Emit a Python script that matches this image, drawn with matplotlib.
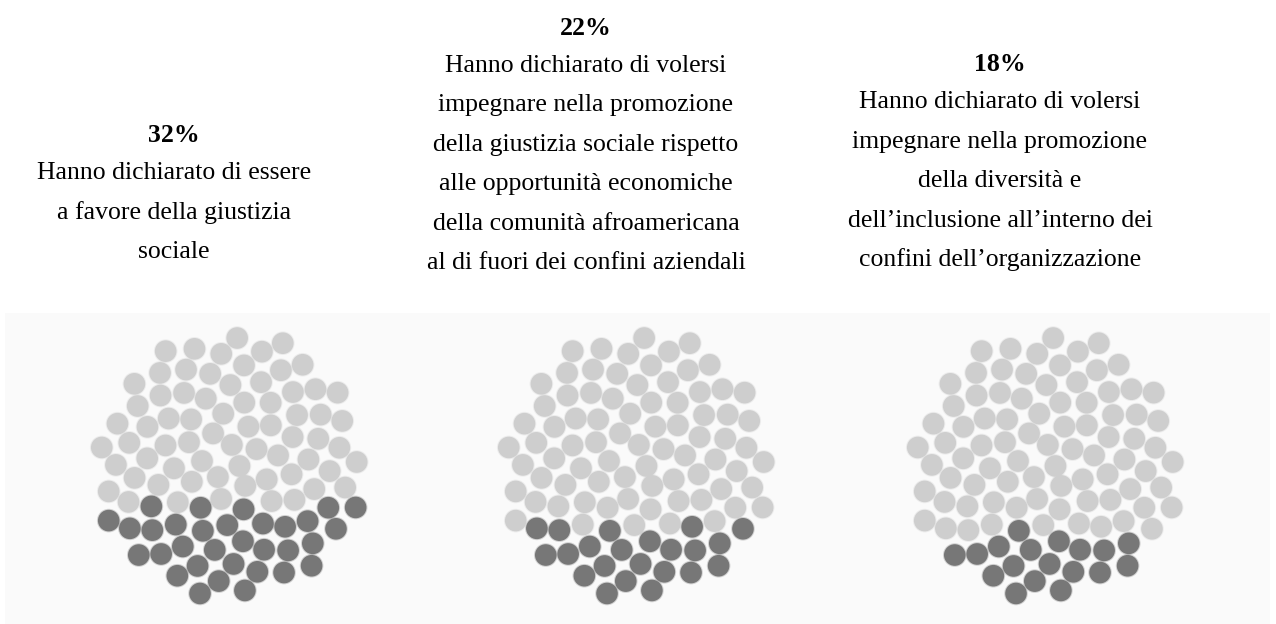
import numpy as np
import matplotlib
matplotlib.use("Agg")
import matplotlib.pyplot as plt
from matplotlib.patches import Circle, Rectangle

# percentuali e testi delle tre colonne
percentuali = [32, 22, 18]
descrizioni = [
    ["Hanno dichiarato di essere",
     "a favore della giustizia",
     "sociale"],
    ["Hanno dichiarato di volersi",
     "impegnare nella promozione",
     "della giustizia sociale rispetto",
     "alle opportunità economiche",
     "della comunità afroamericana",
     "al di fuori dei confini aziendali"],
    ["Hanno dichiarato di volersi",
     "impegnare nella promozione",
     "della diversità e",
     "dell\u2019inclusione all\u2019interno dei",
     "confini dell\u2019organizzazione"],
]
n_punti = 100

W, H = 1276, 624
fig = plt.figure(figsize=(W / 100, H / 100), dpi=100)
ax = fig.add_axes([0, 0, 1, 1])
ax.set_xlim(0, W)
ax.set_ylim(H, 0)
ax.axis("off")

# fondo chiaro della fascia inferiore
ax.add_patch(Rectangle((5, 313), 1265, 311, facecolor="#fafafa", edgecolor="none", zorder=0))

font = "Liberation Serif"
fs = 18.5
col_x = [174, 586, 1000]
ultima_base = [258, 269, 266]
interlinea = 39.4

for cx, base, pct, righe in zip(col_x, ultima_base, percentuali, descrizioni):
    n = len(righe)
    for i, riga in enumerate(righe):
        y = base - (n - 1 - i) * interlinea
        ax.text(cx, y, riga, ha="center", va="baseline", fontsize=fs,
                family=font, color="black")
    y0 = base - (n - 1) * interlinea - 37
    ax.text(cx, y0, f"{pct}%", ha="center", va="baseline", fontsize=fs,
            family=font, fontweight="bold", color="black")

# disposizione a girasole dei 100 punti
ga = np.pi * (3 - np.sqrt(5))
k = np.arange(n_punti)
R = 134
r = R * np.sqrt((k + 0.5) / n_punti)
th = k * ga
px = r * np.cos(th)
py = r * np.sin(th)
ordine = np.argsort(-py)  # dal basso verso l'alto

centri = [230, 637, 1046]
cy = 466
for cx, pct in zip(centri, percentuali):
    n_scuri = round(pct / 100 * n_punti)
    scuri = set(ordine[:n_scuri].tolist())
    for j in range(n_punti):
        colore = "#777777" if j in scuri else "#cecece"
        # alone leggero attorno a ogni punto
        ax.add_patch(Circle((cx + px[j], cy + py[j]), 11.8, facecolor=colore,
                            edgecolor="none", alpha=0.3, zorder=1))
        ax.add_patch(Circle((cx + px[j], cy + py[j]), 10.8, facecolor=colore,
                            edgecolor="none", zorder=2))

fig.savefig("out.png", dpi=100, facecolor="white")
